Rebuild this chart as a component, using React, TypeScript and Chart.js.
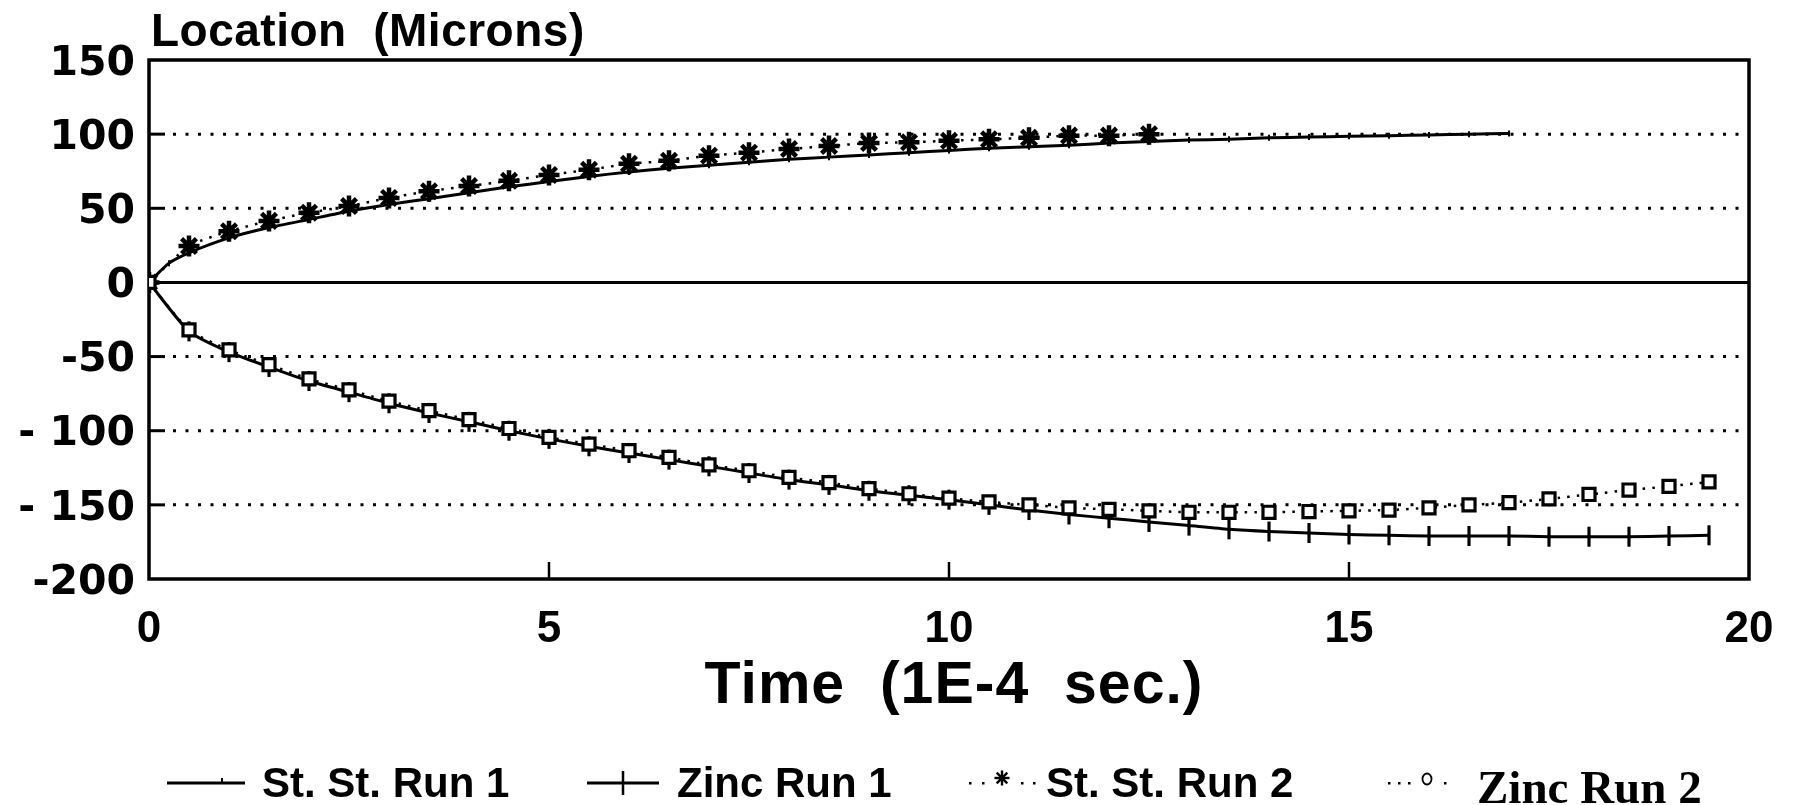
import React, { useEffect, useRef } from 'react';
import { Chart, registerables } from 'chart.js';

Chart.register(...registerables);

// ---- data ----
const xTicks = [0, 5, 10, 15, 20];
const yTickValues = [150, 100, 50, 0, -50, -100, -150, -200];
const yTickTexts = ['150', '100', '50', '0', '-50', '- 100', '- 150', '-200'];

const stRun1Time = [0, 0.25, 0.5, 1, 1.5, 2, 2.5, 3, 3.5, 4, 4.5, 5, 5.5, 6, 6.5, 7, 7.5, 8, 8.5, 9, 9.5, 10, 10.5, 11, 11.5, 12, 12.5, 13, 13.5, 14, 14.5, 15, 15.5, 16, 16.5, 17];
const stRun1Loc = [0, 13, 20, 30, 37, 42.5, 48, 52.5, 56.5, 60.5, 64.5, 68, 71.5, 74.5, 77, 79, 81, 83, 84.5, 86, 87.5, 89, 90.5, 91.5, 92.5, 94, 95, 96, 96.5, 97.5, 98, 98.5, 99, 99.5, 100, 100.5];

const zincRun1Time = [0, 0.5, 1, 1.5, 2, 2.5, 3, 3.5, 4, 4.5, 5, 5.5, 6, 6.5, 7, 7.5, 8, 8.5, 9, 9.5, 10, 10.5, 11, 11.5, 12, 12.5, 13, 13.5, 14, 14.5, 15, 15.5, 16, 16.5, 17, 17.5, 18, 18.5, 19, 19.5];
const zincRun1Loc = [0, -33, -47, -57, -66.5, -74, -81.5, -88, -94, -100, -105.5, -110.5, -115, -119.5, -124, -128.5, -133, -136.5, -140.5, -143.5, -146.5, -150, -153.5, -156.5, -159, -161.5, -164, -166.5, -168, -169, -170, -170.5, -171, -171, -171, -171.5, -171.5, -171.5, -171, -170.5];

const stRun2Time = [0, 0.5, 1, 1.5, 2, 2.5, 3, 3.5, 4, 4.5, 5, 5.5, 6, 6.5, 7, 7.5, 8, 8.5, 9, 9.5, 10, 10.5, 11, 11.5, 12, 12.5];
const stRun2Loc = [0, 24.5, 34.5, 41.5, 47, 51.5, 57, 61.5, 65, 68.5, 72.5, 76, 80, 82, 85.5, 87.5, 90, 92, 94, 94.5, 95.5, 96.5, 97.5, 99, 99, 100];

const zincRun2Time = [0, 0.5, 1, 1.5, 2, 2.5, 3, 3.5, 4, 4.5, 5, 5.5, 6, 6.5, 7, 7.5, 8, 8.5, 9, 9.5, 10, 10.5, 11, 11.5, 12, 12.5, 13, 13.5, 14, 14.5, 15, 15.5, 16, 16.5, 17, 17.5, 18, 18.5, 19, 19.5];
const zincRun2Loc = [0, -32, -45.5, -55.5, -65, -72.5, -80, -86.5, -92.5, -98.5, -104.5, -109, -113.5, -118, -123, -127, -131.5, -135, -139, -142.5, -145.5, -148, -150, -152, -153, -154, -155, -155, -155, -154.5, -154, -153.5, -152, -150, -148.5, -146, -143, -140, -137.5, -134.5];

const legendLabels = ['St. St. Run 1', 'Zinc Run 1', 'St. St. Run 2', 'Zinc Run 2'];
const xTitle = 'Time  (1E-4  sec.)';
const yTitle = 'Location  (Microns)';

const pts = (xs: number[], ys: number[]) => xs.map((x, i) => ({ x, y: ys[i] }));

function line(ctx: CanvasRenderingContext2D, x1: number, y1: number, x2: number, y2: number) {
  ctx.beginPath();
  ctx.moveTo(x1, y1);
  ctx.lineTo(x2, y2);
  ctx.stroke();
}

const framePlugin = {
  id: 'frameGrid',
  beforeDatasetsDraw(chart: any) {
    const { ctx, chartArea: a, scales } = chart;
    const xs = scales.x;
    const ys = scales.y;
    ctx.save();
    ctx.strokeStyle = '#000';
    ctx.lineCap = 'butt';
    ys.ticks.forEach((t: any) => {
      const v = t.value;
      if (v === ys.min || v === ys.max) return;
      const py = ys.getPixelForValue(v);
      ctx.setLineDash([]);
      if (v === 0) {
        ctx.lineWidth = 3;
        line(ctx, a.left, py, a.right, py);
        return;
      }
      ctx.lineWidth = 3;
      line(ctx, a.left, py, a.left + 16, py);
      ctx.setLineDash([3, 9.5]);
      ctx.lineWidth = 3;
      line(ctx, a.left + 24, py, a.right - 6, py);
    });
    ctx.setLineDash([]);
    ctx.lineWidth = 2.5;
    xs.ticks.forEach((t: any) => {
      if (t.value === xs.min || t.value === xs.max) return;
      const px = xs.getPixelForValue(t.value);
      line(ctx, px, a.bottom, px, a.bottom - 17);
    });
    ctx.lineWidth = 3.5;
    ctx.strokeRect(a.left, a.top, a.right - a.left, a.bottom - a.top);
    ctx.restore();
  },
  afterDraw(chart: any) {
    const { ctx, chartArea: a } = chart;
    ctx.save();
    ctx.fillStyle = '#000';
    ctx.strokeStyle = '#000';
    // titles
    ctx.textBaseline = 'alphabetic';
    ctx.textAlign = 'left';
    ctx.font = 'bold 46px "Liberation Sans", Arial, sans-serif';
    (ctx as any).letterSpacing = '0.5px';
    ctx.fillText(yTitle, a.left + 2, 46);
    ctx.textAlign = 'center';
    ctx.font = 'bold 59px "Liberation Sans", Arial, sans-serif';
    (ctx as any).letterSpacing = '1px';
    ctx.fillText(xTitle, (a.left + a.right) / 2 + 5, 703);
    (ctx as any).letterSpacing = '0px';

    // legend
    const ly = 783;
    const base = 797;
    ctx.textAlign = 'left';
    ctx.font = 'bold 42px "Liberation Sans", Arial, sans-serif';
    ctx.setLineDash([]);
    // 1
    ctx.lineWidth = 3;
    line(ctx, 167, ly, 245, ly);
    ctx.lineWidth = 2;
    line(ctx, 222, ly, 222, ly - 5);
    ctx.fillText(legendLabels[0], 262, base);
    // 2
    ctx.lineWidth = 3;
    line(ctx, 587, ly, 659, ly);
    ctx.lineWidth = 2.5;
    line(ctx, 623, ly - 12, 623, ly + 12);
    ctx.fillText(legendLabels[1], 677, base);
    // 3
    [970, 983, 1022, 1034].forEach((dx) => ctx.fillRect(dx - 1, ly - 1, 2.5, 2.5));
    ctx.lineWidth = 2.4;
    const sx = 1002, sy = ly - 5, sr = 7.5;
    for (let k = 0; k < 4; k++) {
      const ang = (k * Math.PI) / 4;
      line(ctx, sx - Math.cos(ang) * sr, sy - Math.sin(ang) * sr, sx + Math.cos(ang) * sr, sy + Math.sin(ang) * sr);
    }
    ctx.fillText(legendLabels[2], 1046, base);
    // 4
    [1389, 1399, 1409, 1445].forEach((dx) => ctx.fillRect(dx - 1, ly - 1, 2.5, 2.5));
    ctx.lineWidth = 1.8;
    ctx.beginPath();
    ctx.ellipse(1427, ly - 4, 4.5, 5.5, 0, 0, Math.PI * 2);
    ctx.stroke();
    ctx.font = 'bold 47px "Liberation Serif", "Times New Roman", serif';
    ctx.fillText(legendLabels[3], 1477, 803);
    ctx.restore();
  },
};

export default function App() {
  const ref = useRef<HTMLCanvasElement>(null);

  useEffect(() => {
    document.body.style.margin = '0';
    const canvas = ref.current;
    if (!canvas) return;
    const yTickFont = { family: '"DejaVu Sans", sans-serif', weight: 'bold' as const, size: 41 };
    const xTickFont = { family: '"Liberation Sans", Arial, sans-serif', weight: 'bold' as const, size: 44 };
    const chart = new Chart(canvas, {
      type: 'line',
      data: {
        datasets: [
          {
            label: legendLabels[3],
            data: pts(zincRun2Time, zincRun2Loc),
            borderColor: '#000',
            borderWidth: 2.5,
            borderDash: [2.5, 7],
            pointStyle: 'rect',
            pointRadius: 8.5,
            pointBorderWidth: 3.2,
            pointBackgroundColor: '#fff',
            pointBorderColor: '#000',
            fill: false,
          },
          {
            label: legendLabels[2],
            data: pts(stRun2Time, stRun2Loc),
            borderColor: '#000',
            borderWidth: 2.5,
            borderDash: [2.5, 7],
            pointStyle: 'star',
            pointRadius: 10.5,
            pointBorderWidth: 4.5,
            pointBackgroundColor: '#000',
            pointBorderColor: '#000',
            fill: false,
          },
          {
            label: legendLabels[1],
            data: pts(zincRun1Time, zincRun1Loc),
            borderColor: '#000',
            borderWidth: 3,
            pointStyle: 'line',
            rotation: 90,
            pointRadius: 10,
            pointBorderWidth: 3.2,
            pointBorderColor: '#000',
            fill: false,
          },
          {
            label: legendLabels[0],
            data: pts(stRun1Time, stRun1Loc),
            borderColor: '#000',
            borderWidth: 3,
            pointStyle: 'line',
            rotation: 90,
            pointRadius: 3,
            pointBorderWidth: 2,
            pointBorderColor: '#000',
            fill: false,
          },
        ],
      },
      options: {
        responsive: false,
        devicePixelRatio: 1,
        animation: false,
        layout: { padding: { top: 60, right: 49, bottom: 0, left: 0 } },
        elements: { line: { tension: 0.2 } },
        plugins: {
          legend: { display: false },
          tooltip: { enabled: false },
          title: { display: false },
        },
        scales: {
          x: {
            type: 'linear',
            min: 0,
            max: 20,
            afterFit: (s: any) => { s.height = 226; },
            afterBuildTicks: (s: any) => { s.ticks = xTicks.map((v) => ({ value: v })); },
            grid: { display: false, drawTicks: false },
            border: { display: false },
            ticks: {
              font: xTickFont,
              color: '#000',
              padding: 24,
              autoSkip: false,
              maxRotation: 0,
              callback: (v: any) => String(v),
            },
          },
          y: {
            type: 'linear',
            min: -200,
            max: 150,
            afterFit: (s: any) => { s.width = 149; },
            afterBuildTicks: (s: any) => { s.ticks = yTickValues.map((v) => ({ value: v })); },
            grid: { display: false, drawTicks: false },
            border: { display: false },
            ticks: {
              font: yTickFont,
              color: '#000',
              padding: 14,
              labelOffset: 4,
              autoSkip: false,
              callback: (v: any) => {
                const i = yTickValues.indexOf(Number(v));
                return i >= 0 ? yTickTexts[i] : '';
              },
            },
          },
        },
      },
      plugins: [framePlugin],
    });
    return () => chart.destroy();
  }, []);

  return (
    <div style={{ width: 1798, height: 805 }}>
      <canvas ref={ref} width={1798} height={805} style={{ display: 'block' }} />
    </div>
  );
}
